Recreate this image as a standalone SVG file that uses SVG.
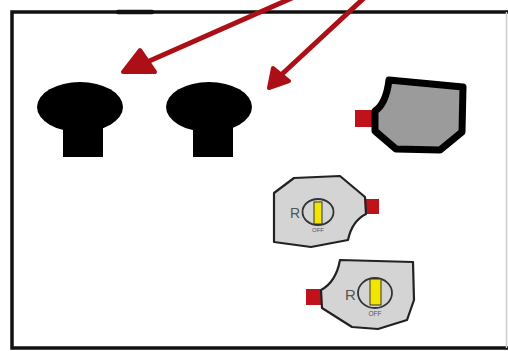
<svg xmlns="http://www.w3.org/2000/svg" width="508" height="351" viewBox="0 0 508 351">
  <style>
    .frame { fill: none; stroke: #111; stroke-width: 3.5; }
    .knob { fill: #000; }
    .tab { fill: #c0121a; }
    .wire { stroke: #ac0f16; stroke-width: 5; stroke-linecap: round; fill: none; }
    .head { fill: #ac0f16; stroke: #ac0f16; stroke-width: 4; stroke-linejoin: round; }
    .dev { fill: #d4d4d4; stroke: #222; stroke-width: 2.2; stroke-linejoin: round; }
    .dial { fill: none; stroke: #333; stroke-width: 1.8; }
    .slot { fill: #f2e600; stroke: #333; stroke-width: 1; }
    .lbl { font-family: "Liberation Sans", Arial, sans-serif; fill: #555; }
  </style>

  <rect width="508" height="351" fill="#fff"/>

  <!-- enclosure outline -->
  <g id="frame">
    <path class="frame" d="M508 12 H12 V348 H508"/>
    <line x1="118" y1="12" x2="152" y2="12" stroke="#111" stroke-width="4.5" stroke-linecap="round"/>
    <line x1="506.5" y1="12" x2="506.5" y2="348" stroke="#ccc" stroke-width="1.5"/>
  </g>

  <!-- connectors -->
  <g id="connectors">
    <line class="wire" x1="292" y1="-2" x2="138" y2="66"/>
    <polygon class="head" points="123,72 140,50 155,72"/>
    <line class="wire" x1="364" y1="-2" x2="280" y2="76"/>
    <polygon class="head" points="269,88 273,68 289,81"/>
  </g>

  <g id="knob1">
    <ellipse class="knob" cx="80" cy="107" rx="43" ry="25"/>
    <rect class="knob" x="63" y="126" width="40" height="31"/>
  </g>

  <g id="knob2">
    <ellipse class="knob" cx="209" cy="107" rx="43" ry="25"/>
    <rect class="knob" x="193" y="126" width="40" height="31"/>
  </g>

  <g id="sensor">
    <rect class="tab" x="355" y="110" width="18" height="17"/>
    <path d="M389 80 L463 87 L462 132 L440 150 L396 149 L375 131 L375 111 Q386 104 389 80 Z" fill="#9b9b9b" stroke="#000" stroke-width="7" stroke-linejoin="round"/>
  </g>

  <g id="switch1">
    <rect class="tab" x="366" y="199" width="13" height="15"/>
    <path class="dev" d="M274 193 L294 178 L340 176 L365 197 L366 214 Q352 221 348 240 L311 247 L274 242 Z"/>
    <ellipse class="dial" cx="318" cy="212" rx="15.5" ry="13"/>
    <rect class="slot" x="314" y="202" width="8" height="22"/>
    <text class="lbl" x="290" y="218" font-size="14">R</text>
    <text class="lbl" x="318" y="232" font-size="6" text-anchor="middle">OFF</text>
  </g>

  <g id="switch2">
    <rect class="tab" x="306" y="289" width="15" height="16"/>
    <path class="dev" d="M340 260 L413 262 L414 300 L407 320 L378 329 L352 327 L322 308 L321 290 Q336 282 340 260 Z"/>
    <ellipse class="dial" cx="375" cy="293" rx="17" ry="15"/>
    <rect class="slot" x="370" y="279" width="11" height="26"/>
    <text class="lbl" x="345" y="300" font-size="15">R</text>
    <text class="lbl" x="375" y="316" font-size="6.5" text-anchor="middle">OFF</text>
  </g>
</svg>
